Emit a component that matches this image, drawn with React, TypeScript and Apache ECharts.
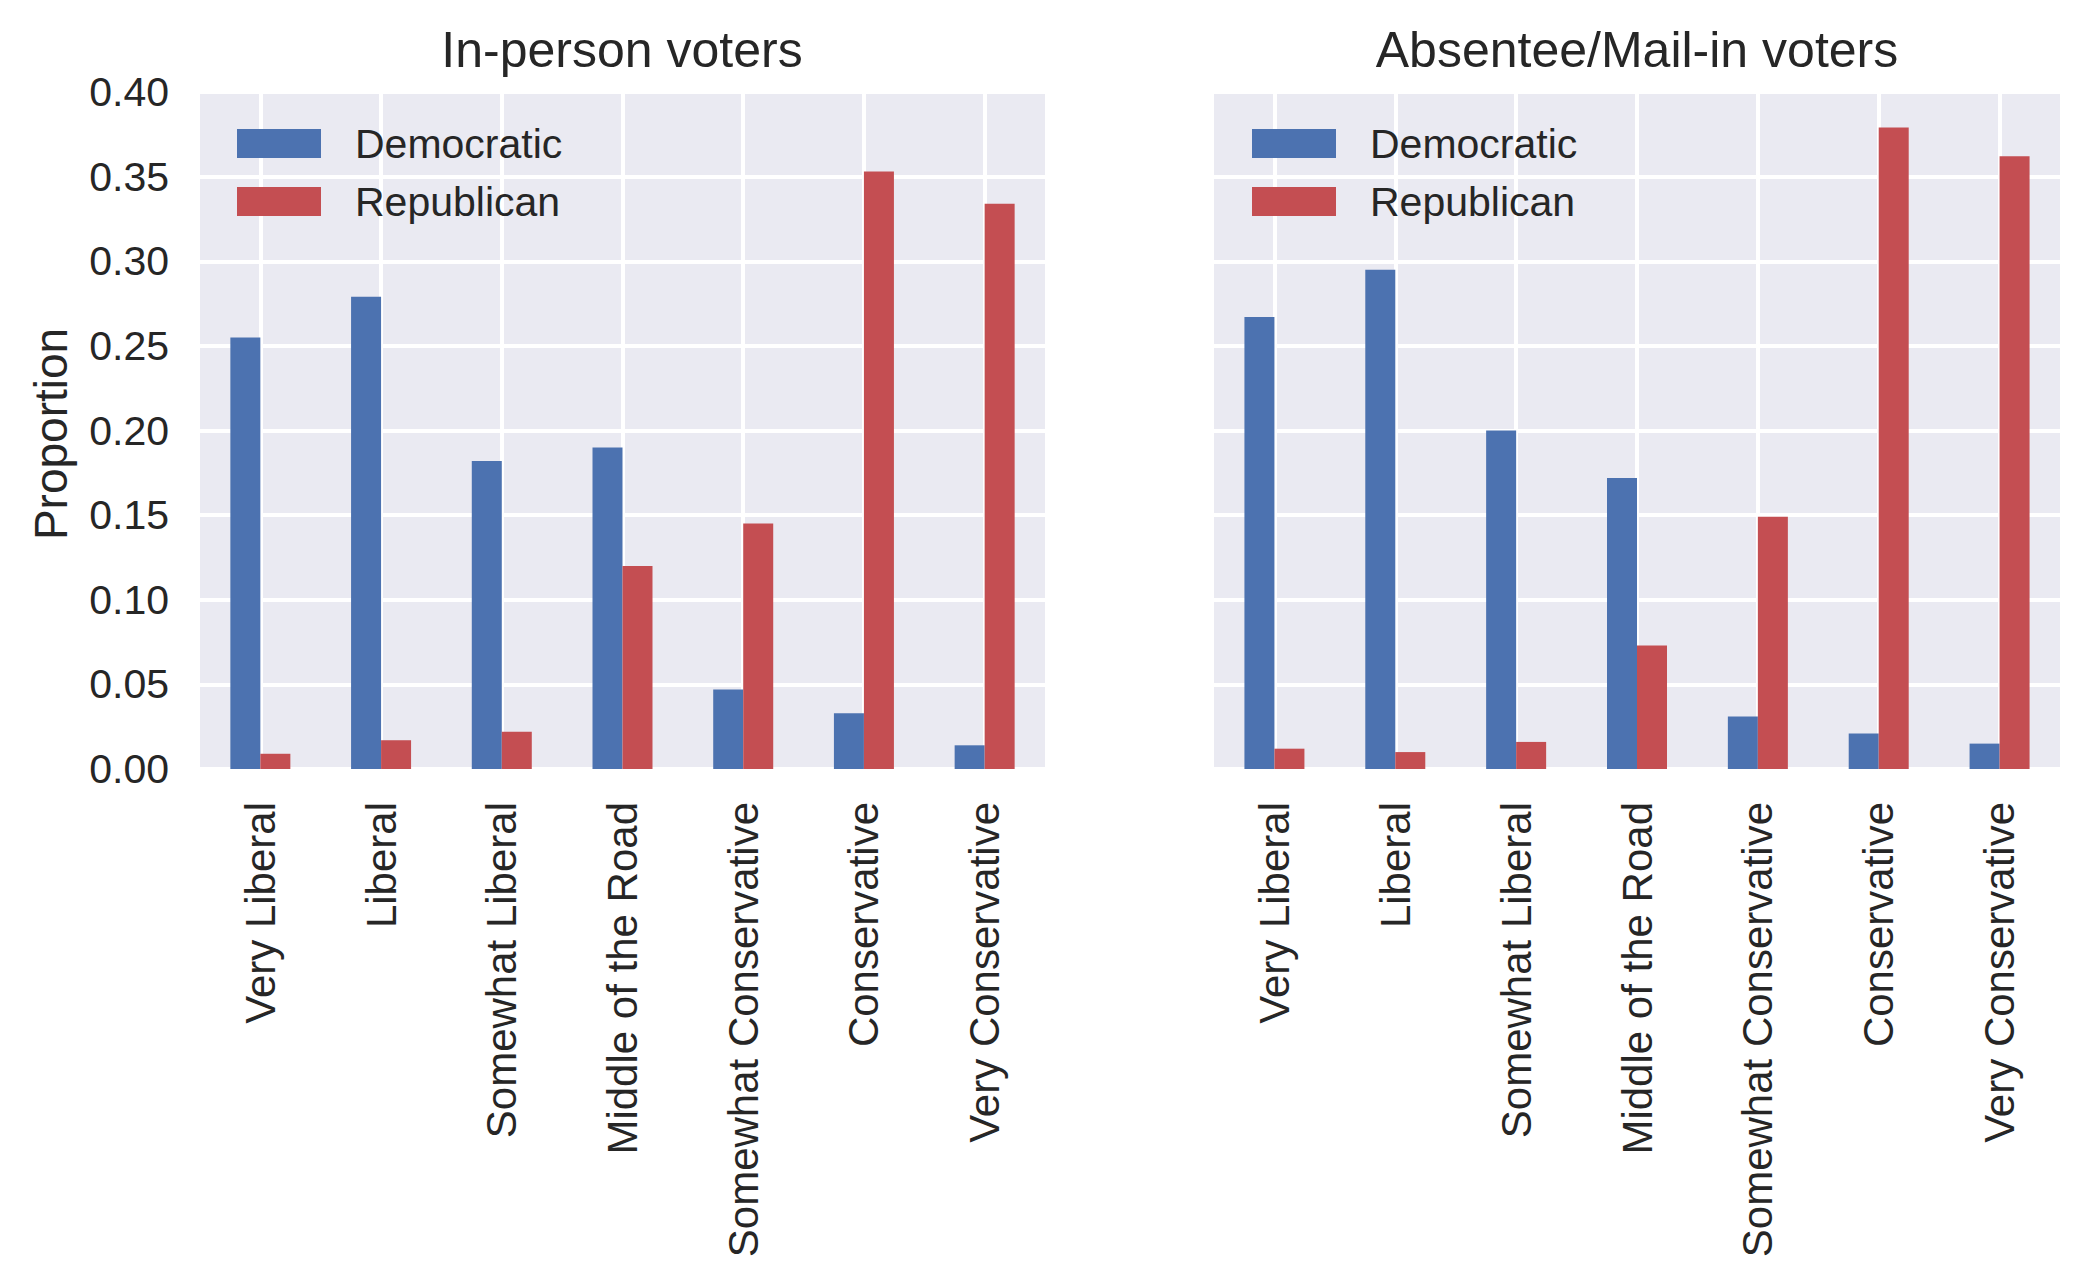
import React, { useEffect, useRef } from "react";
import * as echarts from "echarts";

const categories = [
  "Very Liberal",
  "Liberal",
  "Somewhat Liberal",
  "Middle of the Road",
  "Somewhat Conservative",
  "Conservative",
  "Very Conservative",
];
const seriesNames = ["Democratic", "Republican"];
const panelTitles = ["In-person voters", "Absentee/Mail-in voters"];
const inPersonDem = [0.255, 0.279, 0.182, 0.19, 0.047, 0.033, 0.014];
const inPersonRep = [0.009, 0.017, 0.022, 0.12, 0.145, 0.353, 0.334];
const mailDem = [0.267, 0.295, 0.2, 0.172, 0.031, 0.021, 0.015];
const mailRep = [0.012, 0.01, 0.016, 0.073, 0.149, 0.379, 0.362];
const yTicks = { min: 0, max: 0.4, interval: 0.05 };
const yLabel = "Proportion";

const FONT = "'Liberation Sans', Arial, sans-serif";
const TEXT = "#262626";
const BLUE = "#4C72B0";
const RED = "#C44E52";
const BG = "#EAEAF2";

export default function App() {
  const ref = useRef<HTMLDivElement>(null);
  useEffect(() => {
    if (!ref.current) return;
    const chart = echarts.init(ref.current, null, { renderer: "svg" });
    const grids = [
      { left: 200, top: 92, width: 845, height: 677 },
      { left: 1214, top: 92, width: 846, height: 677 },
    ];
    const catAxis = (gi: number) => ({
      type: "category",
      gridIndex: gi,
      data: categories,
      axisLine: { show: false },
      axisTick: { show: false },
      splitLine: { show: false },
      axisLabel: {
        rotate: 90,
        margin: 33,
        fontSize: 42,
        color: TEXT,
        fontFamily: FONT,
        interval: 0,
      },
    });
    const gridXAxis = (gi: number) => ({
      type: "value",
      gridIndex: gi,
      min: 0,
      max: categories.length * 2,
      interval: 1,
      axisLine: { show: false },
      axisTick: { show: false },
      axisLabel: { show: false },
      splitLine: {
        show: true,
        lineStyle: { color: ["rgba(0,0,0,0)", "#ffffff"], width: 4 },
      },
    });
    const yAxis = (gi: number, showLabel: boolean) => ({
      type: "value",
      gridIndex: gi,
      min: yTicks.min,
      max: yTicks.max,
      interval: yTicks.interval,
      axisLine: { show: false },
      axisTick: { show: false },
      axisLabel: {
        show: showLabel,
        margin: 31,
        fontSize: 41,
        color: TEXT,
        fontFamily: FONT,
        formatter: (v: number) => v.toFixed(2),
      },
      splitLine: { show: true, lineStyle: { color: "#ffffff", width: 4 } },
    });
    const bar = (name: string, data: number[], color: string, gi: number) => ({
      type: "bar",
      name,
      data,
      xAxisIndex: gi,
      yAxisIndex: gi,
      barWidth: 30,
      barGap: "0%",
      itemStyle: { color },
    });
    const legend = (left: number) => ({
      data: seriesNames,
      orient: "vertical",
      left,
      top: 122,
      padding: 0,
      icon: "rect",
      itemWidth: 84,
      itemHeight: 29,
      itemGap: 15,
      textStyle: {
        fontSize: 41,
        lineHeight: 43,
        color: TEXT,
        fontFamily: FONT,
        padding: [0, 0, 0, 29],
      },
    });
    chart.setOption({
      animation: false,
      backgroundColor: "#ffffff",
      grid: grids.map((g) => ({
        ...g,
        show: true,
        backgroundColor: BG,
        borderWidth: 0,
      })),
      xAxis: [catAxis(0), catAxis(1), gridXAxis(0), gridXAxis(1)],
      yAxis: [yAxis(0, true), yAxis(1, false)],
      legend: [legend(237), legend(1252)],
      series: [
        bar(seriesNames[0], inPersonDem, BLUE, 0),
        bar(seriesNames[1], inPersonRep, RED, 0),
        bar(seriesNames[0], mailDem, BLUE, 1),
        bar(seriesNames[1], mailRep, RED, 1),
      ],
      graphic: [
        {
          type: "text",
          x: 622,
          y: 50,
          style: {
            text: panelTitles[0],
            fontSize: 50,
            fontFamily: FONT,
            fill: TEXT,
            textAlign: "center",
            textVerticalAlign: "middle",
          },
        },
        {
          type: "text",
          x: 1637,
          y: 50,
          style: {
            text: panelTitles[1],
            fontSize: 50,
            fontFamily: FONT,
            fill: TEXT,
            textAlign: "center",
            textVerticalAlign: "middle",
          },
        },
        {
          type: "text",
          x: 51,
          y: 434,
          rotation: Math.PI / 2,
          style: {
            text: yLabel,
            fontSize: 46,
            fontFamily: FONT,
            fill: TEXT,
            textAlign: "center",
            textVerticalAlign: "middle",
          },
        },
      ],
    });
    return () => chart.dispose();
  }, []);
  return (
    <div
      ref={ref}
      style={{ position: "fixed", left: 0, top: 0, width: 2089, height: 1280 }}
    />
  );
}
